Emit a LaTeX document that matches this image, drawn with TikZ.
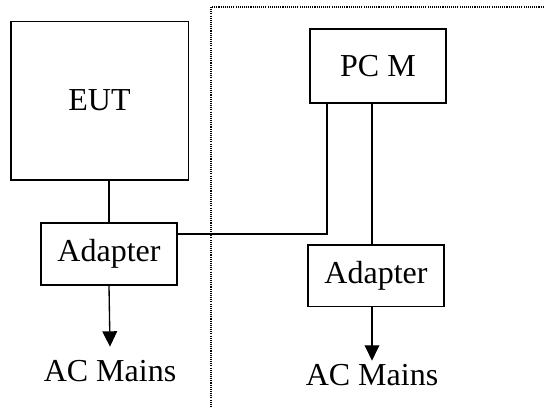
\documentclass[tikz,border=0pt]{standalone}
\usepackage{fontspec}
\setmainfont{Liberation Serif}
\usetikzlibrary{arrows.meta}
\tikzset{
	unit/.style={draw, line width=1pt, inner sep=0pt, font=\fontsize{24}{28}\selectfont},
	mains/.style={inner sep=#1, font=\fontsize{24}{28}\selectfont},
	mains/.default=2pt,
	wire/.style={line width=1pt},
	feed/.style={line width=1pt, -{Triangle[width=11pt,length=11.5pt]}},
	frame/.style={line width=0.9pt, dash pattern=on 0.8pt off 0.8pt}
}

\begin{document}
\begin{tikzpicture}[x=0.75pt, y=-0.75pt]
		%%%%% START %%%%%
		\useasboundingbox (0, 0) rectangle (544, 407);
		
		\draw[frame] (211, 407) -- (211, 7) -- (544, 7);
		
		\node[unit, minimum width=133pt, minimum height=119pt] (eut) at (99.5, 100.5) {EUT};
		\node[unit, minimum width=102pt, minimum height=46.5pt] (adapterA) at (109, 254) {Adapter};
		\node[mains=10pt] (mainsA) at (110, 371) {AC Mains};
		
		\node[unit, minimum width=102pt, minimum height=55.5pt] (pcm) at (378, 66) {PC M};
		\node[unit, minimum width=102pt, minimum height=46pt] (adapterB) at (376, 275.5) {Adapter};
		\node[mains=2.5pt] (mainsB) at (372, 375) {AC Mains};
		
		\coordinate (bend) at (327, 234);
		\coordinate (drop) at (372, 0);
		
		\draw[wire] (eut.south -| adapterA.north) -- (adapterA.north);
		\draw[feed] (adapterA.south) -- (mainsA.north);
		
		\draw[wire] (adapterA.east |- bend) -- (bend) -- (bend |- pcm.south);
		\draw[wire] (pcm.south -| drop) -- (adapterB.north -| drop);
		\draw[feed] (adapterB.south -| drop) -- (mainsB.north);
		
		%%%%% END %%%%%
	\end{tikzpicture}
\end{document}
